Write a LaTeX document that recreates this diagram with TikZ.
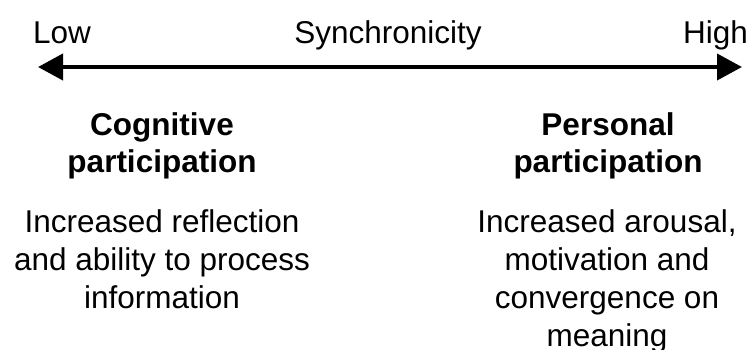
\documentclass[tikz,border=0pt]{standalone}
\usepackage{fontspec}
\setmainfont{Liberation Sans}
\usetikzlibrary{arrows.meta}
\newcommand{\mylines}[1]{\setlength{\tabcolsep}{0pt}\begin{tabular}[t]{c}#1\end{tabular}}
\tikzset{
  lbl/.style={inner sep=0pt, font=\fontsize{31.5}{38}\selectfont},
  txt/.style={inner sep=0pt, font=\fontsize{31.5}{38}\selectfont},
  head/.style={inner sep=0pt, font=\fontsize{31.5}{37.5}\selectfont\bfseries},
  axis/.style={line width=4pt, {Triangle[length=25pt,width=26pt]}-{Triangle[length=25pt,width=26pt]}}
}
\begin{document}
\begin{tikzpicture}[x=1pt,y=-1pt]
\useasboundingbox (0,0) rectangle (751,349);
\node[lbl, anchor=base west] (low) at (33,43) {Low};
\node[lbl, anchor=base] (sync) at (388,43) {Synchronicity};
\node[lbl, anchor=base east] (high) at (748,43) {High};
\coordinate (l) at (38,67);
\coordinate (r) at (742,67);
\draw[axis] (l) -- (r);
\node[head, anchor=base] (cog) at (162,135) {\mylines{Cognitive\\participation}};
\node[head, anchor=base] (per) at (608,135) {\mylines{Personal\\participation}};
\node[txt, anchor=base] (cogt) at (162,232) {\mylines{Increased reflection\\and ability to process\\information}};
\node[txt, anchor=base] (pert) at (607,232) {\mylines{Increased arousal,\\motivation and\\convergence on\\meaning}};
\end{tikzpicture}
\end{document}
